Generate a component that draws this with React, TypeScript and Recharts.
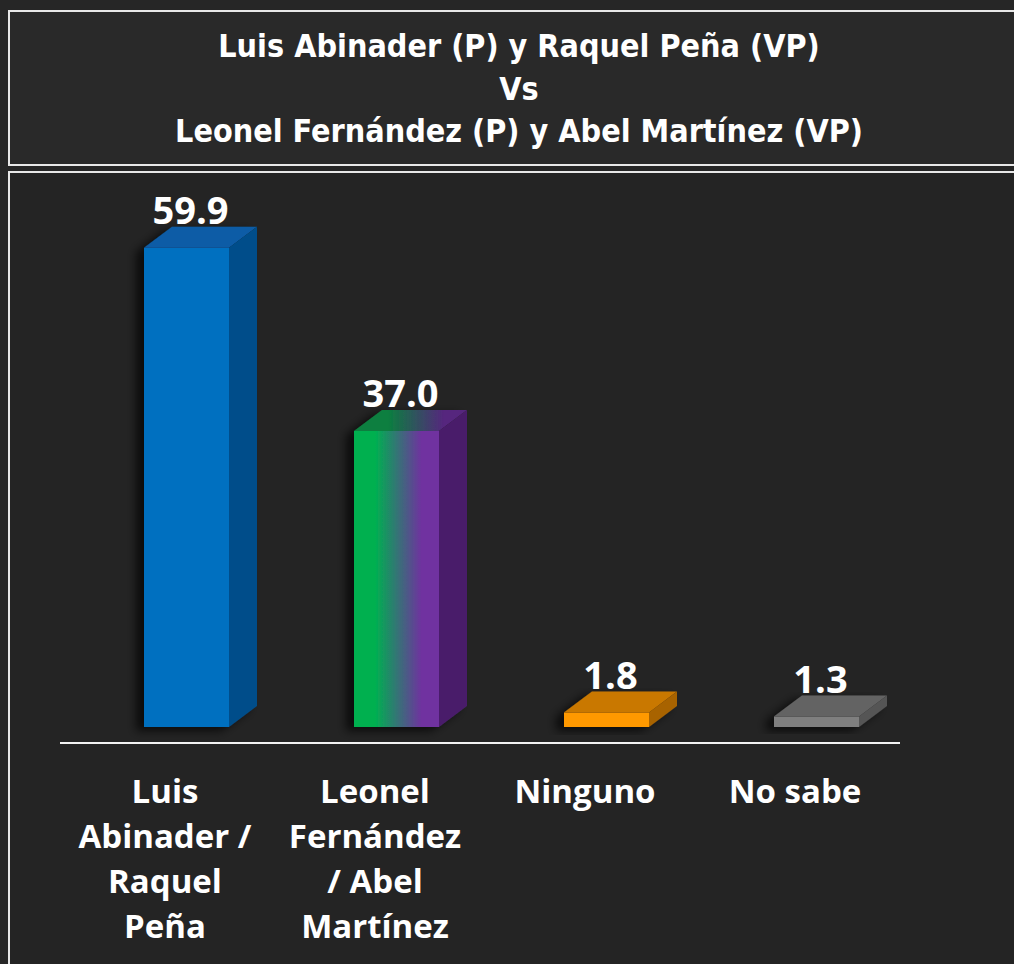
import React from 'react';
import { BarChart, Bar, XAxis, YAxis, LabelList } from 'recharts';

const categories = ['Luis Abinader / Raquel Peña', 'Leonel Fernández / Abel Martínez', 'Ninguno', 'No sabe'];
const categoryLines = [
  ['Luis', 'Abinader /', 'Raquel', 'Peña'],
  ['Leonel', 'Fernández', '/ Abel', 'Martínez'],
  ['Ninguno'],
  ['No sabe'],
];
const values = [59.9, 37.0, 1.8, 1.3];
const titleLines = [
  'Luis Abinader (P) y Raquel Peña (VP)',
  'Vs',
  'Leonel Fernández (P) y Abel Martínez (VP)',
];

// front / top / side colors per bar
const faces = [
  { front: '#0070c0', top: '#0a5ca6', side: '#064e8a' },
  { front: 'url(#gpFront)', top: 'url(#gpTop)', side: '#4a1f6b' },
  { front: '#ff9900', top: '#c97800', side: '#a86400' },
  { front: '#7f7f7f', top: '#646464', side: '#555555' },
];

const data = categories.map((name, i) => ({ name, value: values[i], idx: i }));

const SHIFT = 21; // perspective offset of the bar fronts
const DX = 28;
const DY = 21;
const FONT = "'Open Sans', 'Liberation Sans', sans-serif";

function Bar3D(props: any) {
  const { x, y, width, height, idx } = props;
  const f = faces[idx];
  const fx = x + SHIFT;
  const b = y + height;
  return (
    <g filter="url(#barShadow)">
      <rect x={fx} y={y} width={width} height={height} fill={f.front} />
      <polygon points={`${fx},${y} ${fx + DX},${y - DY} ${fx + width + DX},${y - DY} ${fx + width},${y}`} fill={f.top} />
      <polygon points={`${fx + width},${y} ${fx + width + DX},${y - DY} ${fx + width + DX},${b - DY} ${fx + width},${b}`} fill={f.side} />
    </g>
  );
}

function ValueLabel(props: any) {
  const { x, y, width, value } = props;
  return (
    <text x={x + SHIFT + width / 2 + 4} y={y - DY - 3} textAnchor="middle" fill="#ffffff"
      style={{ fontFamily: FONT, fontWeight: 700, fontSize: 38 }}>
      {Number(value).toFixed(1)}
    </text>
  );
}

function CatTick(props: any) {
  const { x, y, index } = props;
  const lines = categoryLines[index] || [];
  return (
    <text x={x} y={y} textAnchor="middle" fill="#ffffff" style={{ fontFamily: FONT, fontWeight: 700, fontSize: 33 }}>
      {lines.map((l, i) => (
        <tspan key={i} x={x} y={y + 60 + i * 45}>{l}</tspan>
      ))}
    </text>
  );
}

export default function App() {
  return (
    <div style={{ position: 'absolute', left: 0, top: 0, width: 1014, height: 964, background: '#262626', overflow: 'hidden' }}>
      <div style={{ position: 'absolute', left: 8, top: 10, width: 1030, height: 156, boxSizing: 'border-box', border: '2px solid #e8e8e8', background: '#292929' }} />
      <div style={{ position: 'absolute', left: 0, top: 25, width: 1038, textAlign: 'center', color: '#fff',
        fontFamily: "'DejaVu Sans', sans-serif", fontStretch: 'condensed', fontWeight: 700, fontSize: 32, lineHeight: '42.5px' }}>
        {titleLines.map((t, i) => <div key={i}>{t}</div>)}
      </div>
      <div style={{ position: 'absolute', left: 8, top: 171, width: 1030, height: 820, boxSizing: 'border-box', border: '2px solid #e8e8e8', background: '#242424' }} />
      <div style={{ position: 'absolute', left: 0, top: 0 }}>
        <BarChart width={1014} height={964} data={data} margin={{ top: 183, right: 114, left: 60, bottom: 21 }} barSize={85}>
          <defs>
            <linearGradient id="gpFront" x1="0" y1="0" x2="1" y2="0">
              <stop offset="0%" stopColor="#00b050" />
              <stop offset="25%" stopColor="#00b050" />
              <stop offset="80%" stopColor="#7030a0" />
              <stop offset="100%" stopColor="#7030a0" />
            </linearGradient>
            <linearGradient id="gpTop" x1="0" y1="0" x2="1" y2="0">
              <stop offset="0%" stopColor="#0b7f3f" />
              <stop offset="30%" stopColor="#0b7f3f" />
              <stop offset="80%" stopColor="#56257e" />
              <stop offset="100%" stopColor="#56257e" />
            </linearGradient>
            <filter id="barShadow" x="-30%" y="-10%" width="160%" height="130%">
              <feDropShadow dx={-8} dy={4} stdDeviation={5} floodColor="#000" floodOpacity={0.7} />
            </filter>
          </defs>
          <XAxis dataKey="name" axisLine={{ stroke: '#f2f2f2', strokeWidth: 2 }} tickLine={false} tickSize={0} tickMargin={0}
            height={200} interval={0} tick={<CatTick />} />
          <YAxis hide type="number" domain={[-2, 68]} />
          <Bar dataKey="value" shape={<Bar3D />} isAnimationActive={false}>
            <LabelList dataKey="value" content={<ValueLabel />} />
          </Bar>
        </BarChart>
      </div>
    </div>
  );
}
